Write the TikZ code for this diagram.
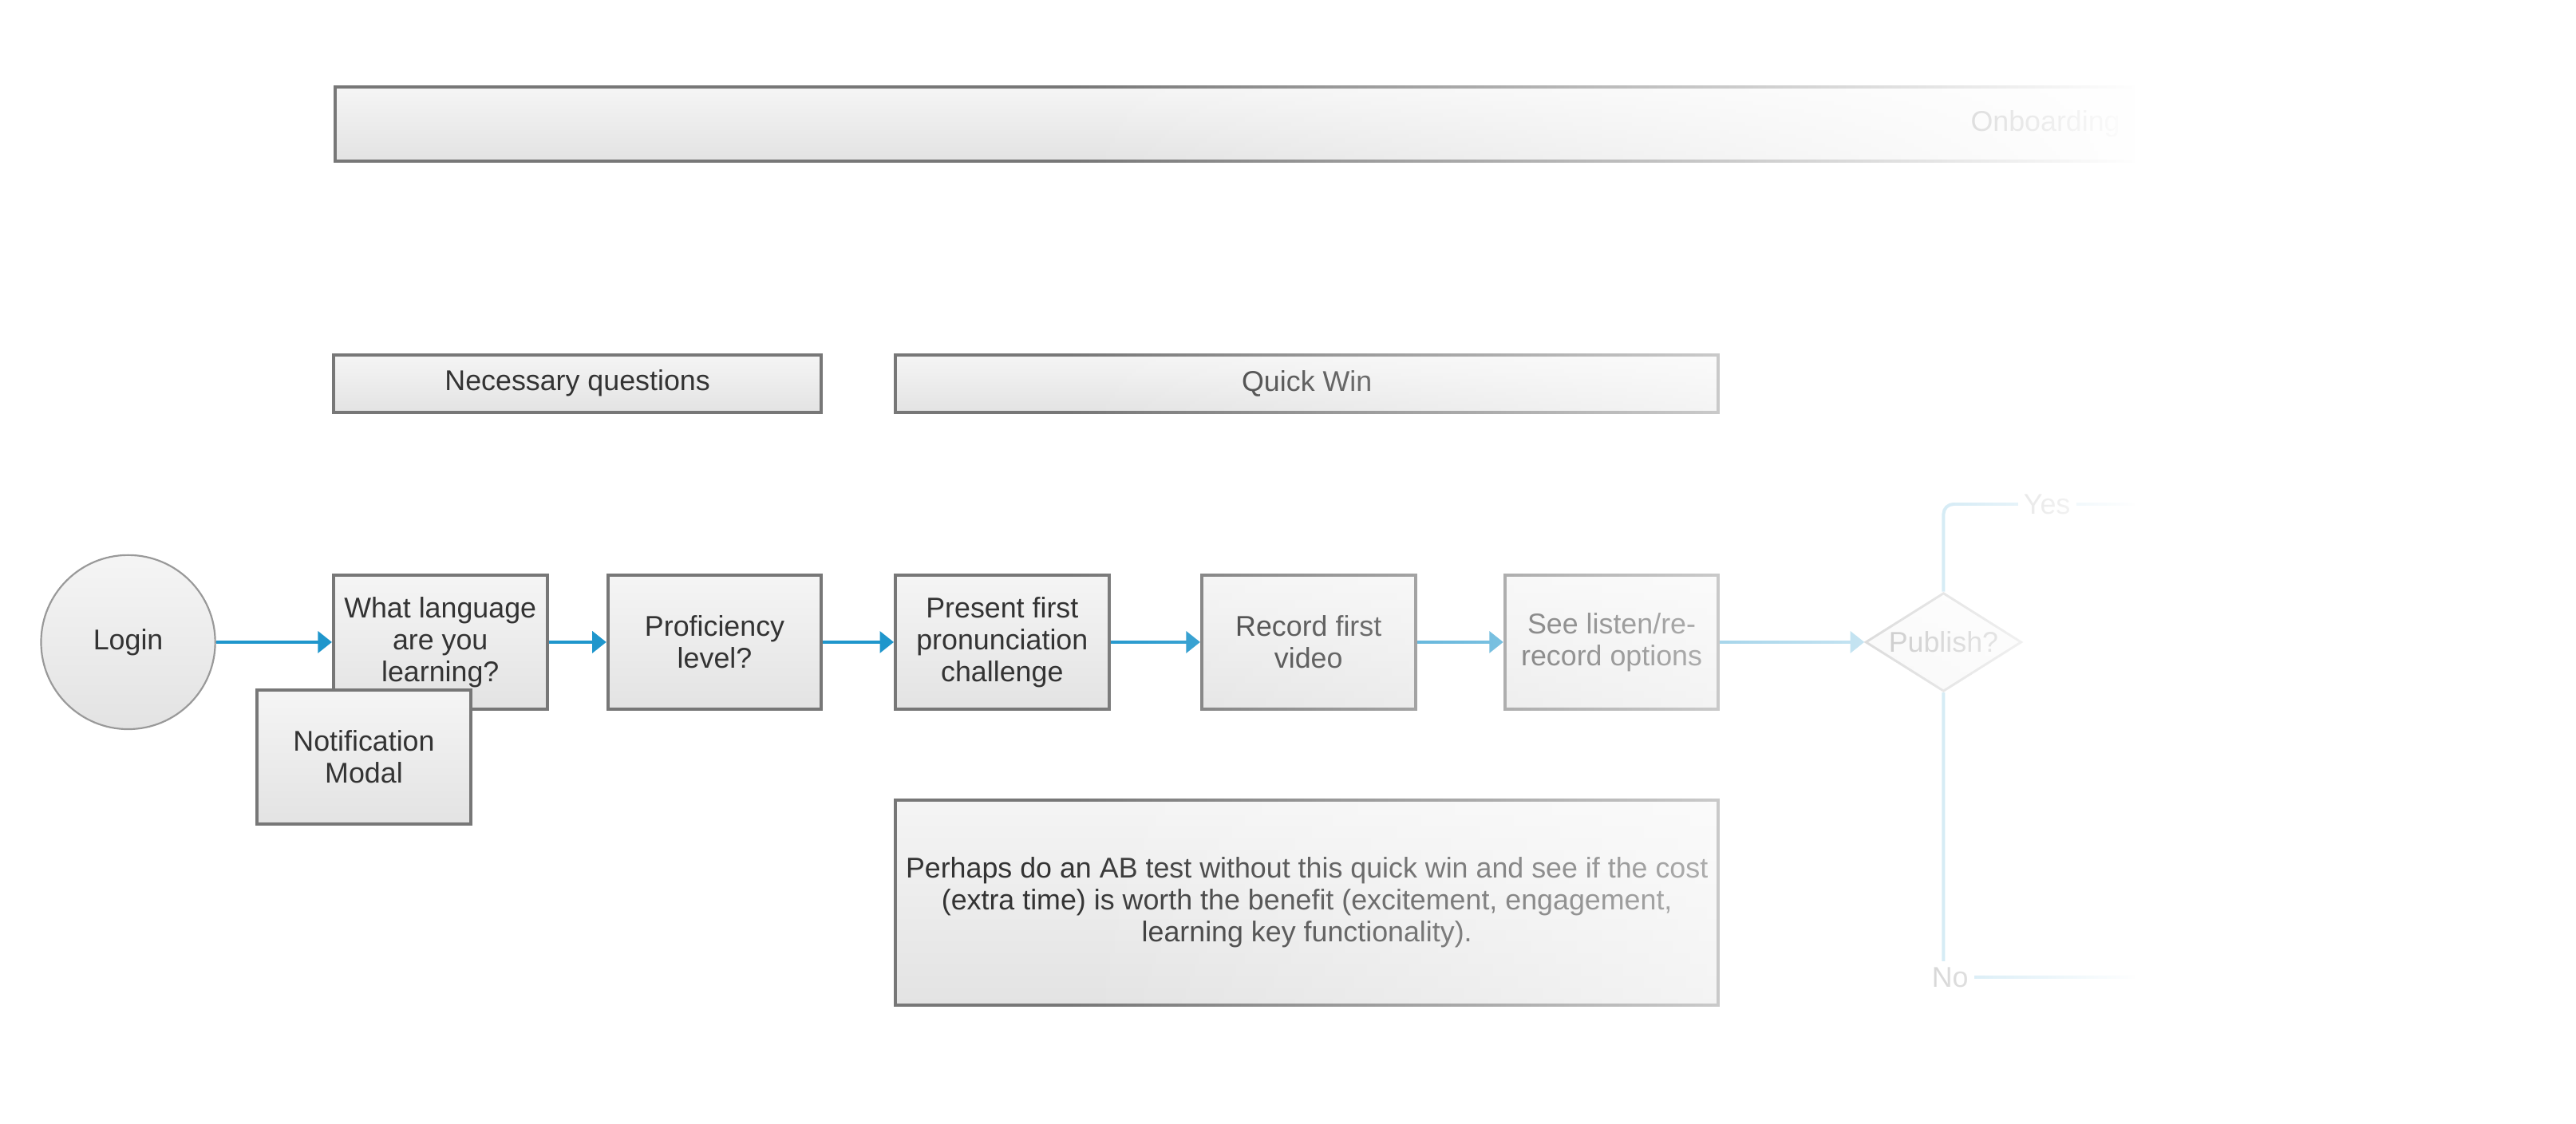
\documentclass[tikz,border=0pt]{standalone}
\usepackage{fontspec}
\setmainfont{Liberation Sans}
\usetikzlibrary{arrows.meta,shapes.geometric,fadings}

\definecolor{flowblue}{RGB}{31,150,204}
\definecolor{boxline}{RGB}{119,119,119}
\definecolor{txtgray}{RGB}{51,51,51}

\tikzfading[name=fadeout, left color=transparent!100, right color=transparent!0]

\tikzset{
  txt/.style={text=txtgray, font=\fontsize{9.9}{11.1}\selectfont, align=center},
  box/.style={txt, draw=boxline, line width=1.1pt, top color=black!4, bottom color=black!11,
    minimum width=2.6cm, minimum height=1.64cm, inner sep=2pt},
  bar/.style={box, minimum height=0.7cm},
  flow/.style={draw=flowblue, line width=1.1pt, -{Triangle[length=0.17cm,width=0.26cm]}},
  branch/.style={draw=flowblue, line width=1.1pt, rounded corners=0.12cm},
  lbl/.style={txt, fill=white, inner sep=2pt}
}

\begin{document}
\begin{tikzpicture}[scale=1]
\useasboundingbox (0,0) rectangle (31.36,13.68);
\fill[white] (0,0) rectangle (31.36,13.68);

% header bars
\node[bar, minimum width=27cm, minimum height=0.9cm, anchor=west] (onb) at (4.06,12.17) {};
\node[txt] (onbtxt) at (24.9,12.17) {Onboarding};
\node[bar, minimum width=5.94cm] (nec) at (7.03,9.01) {Necessary questions};
\node[bar, minimum width=10.02cm] (qw) at (15.91,9.01) {Quick Win};

% flow
\node[txt, circle, draw=black!40, line width=0.6pt, top color=black!4, bottom color=black!11,
  minimum size=2.12cm] (login) at (1.56,5.86) {Login};
\node[box] (lang) at (5.36,5.86) {What language\\are you\\learning?};
\node[box] (prof) at (8.70,5.86) {Proficiency\\level?};
\node[box] (pres) at (12.20,5.86) {Present first\\pronunciation\\challenge};
\node[box] (rec) at (15.93,5.86) {Record first\\video};
\node[box] (see) at (19.62,5.86) {See listen/re-\\record options};
\node[box] (notif) at (4.43,4.46) {Notification\\Modal};
\node[txt, diamond, draw=boxline, line width=0.8pt, top color=black!4, bottom color=black!11,
  minimum width=1.9cm, minimum height=1.2cm, inner sep=0pt, aspect=1.6] (pub) at (23.66,5.86) {Publish?};

\draw[flow] (login) -- (lang);
\draw[flow] (lang) -- (prof);
\draw[flow] (prof) -- (pres);
\draw[flow] (pres) -- (rec);
\draw[flow] (rec) -- (see);
\draw[flow] (see) -- (pub);

% yes / no
\coordinate (yesend) at (31.5,7.54);
\coordinate (noend) at (31.5,1.78);
\draw[branch] (pub.north) |- (yesend);
\draw[branch] (pub.south) |- (noend);
\node[lbl] (yes) at (24.92,7.54) {Yes};
\node[lbl] (no) at (23.74,1.78) {No};

% note
\node[box, minimum width=10.02cm, minimum height=2.5cm] (note) at (15.91,2.69)
  {Perhaps do an AB test without this quick win and see if the cost\\(extra time) is worth the benefit (excitement, engagement,\\learning key functionality).};

% fade out to the right
\fill[white, path fading=fadeout] (13,-0.1) rectangle (26,13.8);
\fill[white] (26,-0.1) rectangle (31.5,13.8);
\end{tikzpicture}
\end{document}
